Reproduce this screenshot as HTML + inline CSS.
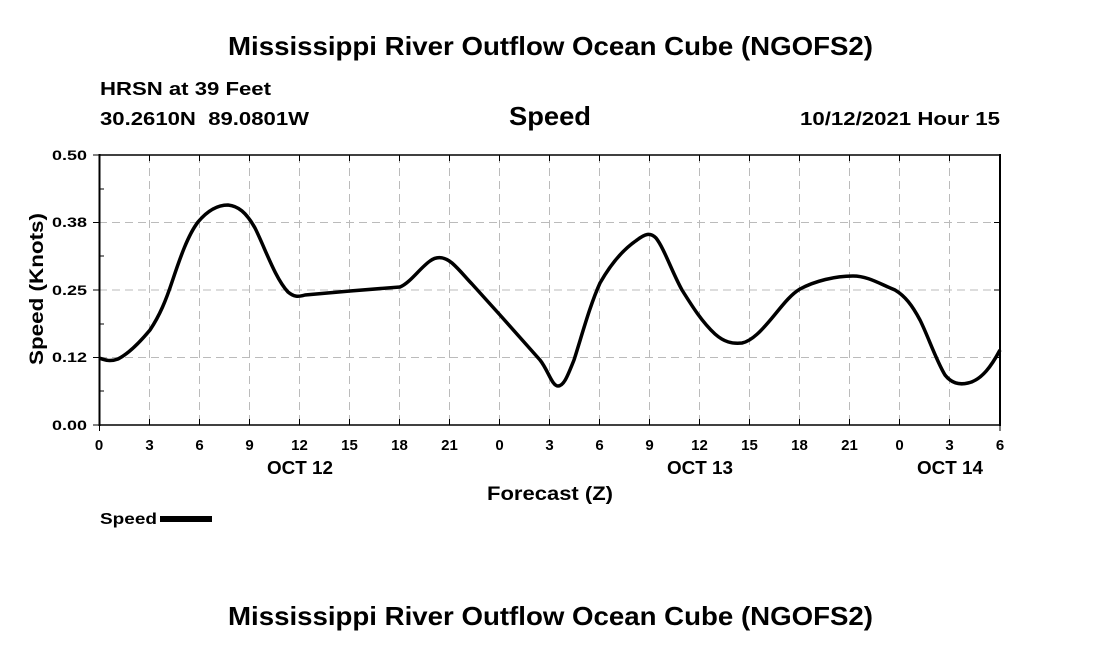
<!DOCTYPE html>
<html><head><meta charset="utf-8"><style>
body{margin:0;background:#fff;}
svg text{font-family:"Liberation Sans",sans-serif;font-weight:bold;fill:#000;}
</style></head><body>
<svg width="1100" height="650" xmlns="http://www.w3.org/2000/svg">
<text x="228" y="55" font-size="26" textLength="645" lengthAdjust="spacingAndGlyphs">Mississippi River Outflow Ocean Cube (NGOFS2)</text>
<text x="100" y="95" font-size="18" textLength="171" lengthAdjust="spacingAndGlyphs">HRSN at 39 Feet</text>
<text x="100" y="125" font-size="18" textLength="209" lengthAdjust="spacingAndGlyphs" xml:space="preserve">30.2610N  89.0801W</text>
<text x="509" y="125" font-size="26" textLength="82" lengthAdjust="spacingAndGlyphs">Speed</text>
<text x="800" y="125" font-size="18" textLength="200" lengthAdjust="spacingAndGlyphs">10/12/2021 Hour 15</text>
<g stroke="#bbb" stroke-width="1" stroke-dasharray="8,5">
<line x1="99" y1="222.5" x2="1000" y2="222.5"/><line x1="99" y1="290" x2="1000" y2="290"/><line x1="99" y1="357.5" x2="1000" y2="357.5"/>
<line x1="149.5" y1="155" x2="149.5" y2="425"/><line x1="199.5" y1="155" x2="199.5" y2="425"/><line x1="249.5" y1="155" x2="249.5" y2="425"/><line x1="299.5" y1="155" x2="299.5" y2="425"/><line x1="349.5" y1="155" x2="349.5" y2="425"/><line x1="399.5" y1="155" x2="399.5" y2="425"/><line x1="449.5" y1="155" x2="449.5" y2="425"/><line x1="499.5" y1="155" x2="499.5" y2="425"/><line x1="549.5" y1="155" x2="549.5" y2="425"/><line x1="599.5" y1="155" x2="599.5" y2="425"/><line x1="649.5" y1="155" x2="649.5" y2="425"/><line x1="699.5" y1="155" x2="699.5" y2="425"/><line x1="749.5" y1="155" x2="749.5" y2="425"/><line x1="799.5" y1="155" x2="799.5" y2="425"/><line x1="849.5" y1="155" x2="849.5" y2="425"/><line x1="899.5" y1="155" x2="899.5" y2="425"/><line x1="949.5" y1="155" x2="949.5" y2="425"/>
</g>
<g stroke="#000" stroke-width="1.5" fill="none">
<line x1="99" y1="155" x2="1000" y2="155"/>
<line x1="99" y1="425" x2="1000" y2="425"/>
<line x1="99.5" y1="154" x2="99.5" y2="426" stroke-width="2"/>
<line x1="1000" y1="154" x2="1000" y2="426" stroke-width="2"/>
</g>
<g stroke="#000" stroke-width="1">
<path d="M93 155H99M93 222.5H99M93 290H99M93 357.5H99M93 425H99M99 189H104M99 256H104M99 324H104M99 391H104M1000 222.5H994M1000 290H994M1000 357.5H994"/>
<path d="M149.5 155v6M199.5 155v6M249.5 155v6M299.5 155v6M349.5 155v6M399.5 155v6M449.5 155v6M499.5 155v6M549.5 155v6M599.5 155v6M649.5 155v6M699.5 155v6M749.5 155v6M799.5 155v6M849.5 155v6M899.5 155v6M949.5 155v6"/>
<path d="M99.5 425v6M149.5 425v-6M199.5 425v-6M249.5 425v-6M299.5 425v-6M349.5 425v-6M399.5 425v-6M449.5 425v-6M499.5 425v-6M549.5 425v-6M599.5 425v-6M649.5 425v-6M699.5 425v-6M749.5 425v-6M799.5 425v-6M849.5 425v-6M899.5 425v-6M949.5 425v-6M1000 425v6"/>
</g>
<g font-size="14">
<text x="52" y="160" textLength="35" lengthAdjust="spacingAndGlyphs">0.50</text><text x="52" y="227" textLength="35" lengthAdjust="spacingAndGlyphs">0.38</text><text x="52" y="295" textLength="35" lengthAdjust="spacingAndGlyphs">0.25</text><text x="52" y="362" textLength="35" lengthAdjust="spacingAndGlyphs">0.12</text><text x="52" y="430" textLength="35" lengthAdjust="spacingAndGlyphs">0.00</text>
</g>
<g font-size="15" text-anchor="middle">
<text x="99" y="450">0</text><text x="149.5" y="450">3</text><text x="199.5" y="450">6</text><text x="249.5" y="450">9</text><text x="299.5" y="450">12</text><text x="349.5" y="450">15</text><text x="399.5" y="450">18</text><text x="449.5" y="450">21</text><text x="499.5" y="450">0</text><text x="549.5" y="450">3</text><text x="599.5" y="450">6</text><text x="649.5" y="450">9</text><text x="699.5" y="450">12</text><text x="749.5" y="450">15</text><text x="799.5" y="450">18</text><text x="849.5" y="450">21</text><text x="899.5" y="450">0</text><text x="949.5" y="450">3</text><text x="1000" y="450">6</text>
</g>
<g font-size="18">
<text x="267" y="474" textLength="66" lengthAdjust="spacingAndGlyphs">OCT 12</text><text x="667" y="474" textLength="66" lengthAdjust="spacingAndGlyphs">OCT 13</text><text x="917" y="474" textLength="66" lengthAdjust="spacingAndGlyphs">OCT 14</text>
</g>
<text x="487" y="500" font-size="19" textLength="126" lengthAdjust="spacingAndGlyphs">Forecast (Z)</text>
<text transform="translate(43,365) rotate(-90)" font-size="19" textLength="152" lengthAdjust="spacingAndGlyphs">Speed (Knots)</text>
<path fill="none" stroke="#000" stroke-width="3.5" stroke-linejoin="round" d="M99 358 C105 360,110 362,118 359 C128 354,140 342,150 330 C160 315,166 300,172 282 C180 258,188 235,198 222 C208 210,218 205,228 205 C238 206,246 212,255 228 C265 248,275 278,288 292 C294 297,298 297,305 295 L350 291 L400 287 C410 283,420 268,430 261 C438 255,446 258,452 263 C460 270,466 278,472 284 L500 315 L540 360 C548 370,552 386,558 386 C564 386,568 375,574 360 C582 335,590 305,600 283 C612 262,625 248,637 240 C645 234,650 232,656 238 C664 248,672 272,682 290 C692 306,702 322,715 334 C724 342,732 344,742 343 C752 341,762 330,772 318 C782 306,790 295,800 289 C815 281,835 276,853 276 C868 276,880 284,895 290 C905 296,912 305,920 320 C928 336,936 360,945 375 C952 384,960 385,968 383 C982 380,992 365,1000 350"/>
<text x="100" y="524" font-size="16" textLength="57" lengthAdjust="spacingAndGlyphs">Speed</text>
<rect x="160" y="516" width="52" height="6" fill="#000"/>
<text x="228" y="625" font-size="26" textLength="645" lengthAdjust="spacingAndGlyphs">Mississippi River Outflow Ocean Cube (NGOFS2)</text>
</svg>
</body></html>
